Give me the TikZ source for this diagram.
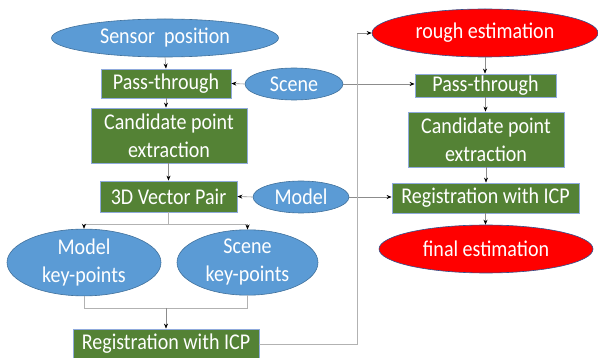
\documentclass[tikz,border=0pt]{standalone}
\usepackage{fontspec}
\setmainfont{Carlito}[FakeStretch=0.89]
\usetikzlibrary{shapes.geometric,arrows.meta}
\definecolor{bfill}{HTML}{5B9BD5}
\definecolor{bline}{HTML}{41719C}
\definecolor{gfill}{HTML}{548235}
\definecolor{gline}{HTML}{8FAADC}
\definecolor{rline}{HTML}{2F528F}
\tikzset{
  every node/.style={text=white,font=\fontsize{22.5}{28}\selectfont,inner sep=0pt,align=center},
  blueell/.style={ellipse,fill=bfill,draw=bline,line width=0.6pt},
  redell/.style={ellipse,fill=red,draw=rline,line width=0.6pt},
  gbox/.style={rectangle,fill=gfill,draw=gline,line width=0.8pt},
  conn/.style={draw=black!45,line width=0.6pt,-{Stealth[length=5pt,width=4pt,black]}},
  plain/.style={draw=black!30,line width=0.6pt}
}
\begin{document}
\begin{tikzpicture}[x=1pt,y=-1pt]
\useasboundingbox (0,0) rectangle (598,358);
% left column
\node[blueell,minimum width=227pt,minimum height=38pt] (sensor) at (165,38) {Sensor\ \ position};
\node[gbox,minimum width=130pt,minimum height=29pt] (pt1) at (166,83.5) {Pass-through};
\node[blueell,minimum width=98pt,minimum height=32pt] (scene) at (294,84) {Scene};
\node[gbox,minimum width=156pt,minimum height=55pt] (cand1) at (169,135.5) {Candidate point\\extraction};
\node[gbox,minimum width=137pt,minimum height=31pt] (vec) at (168.5,196.5) {3D Vector Pair};
\node[blueell,minimum width=96pt,minimum height=32pt] (model) at (301,197) {Model};
\node[blueell,minimum width=154pt,minimum height=51pt] (mkp) at (84,262.5) {Model\\key-points};
\node[blueell,minimum width=141pt,minimum height=51pt] (skp) at (247.5,262.5) {Scene\\key-points};
\node[gbox,minimum width=186pt,minimum height=30pt] (reg1) at (166,344) {Registration with ICP};
% right column
\node[redell,minimum width=226pt,minimum height=48pt] (rough) at (485,33) {rough estimation};
\node[gbox,minimum width=141pt,minimum height=23pt] (pt2) at (485.5,85.5) {Pass-through};
\node[gbox,minimum width=156pt,minimum height=55pt] (cand2) at (486,139.5) {Candidate point\\extraction};
\node[gbox,minimum width=187pt,minimum height=30pt] (reg2) at (485.5,198) {Registration with ICP};
\node[redell,minimum width=214pt,minimum height=48pt] (final) at (486,249) {final estimation};
% helper coordinates
\coordinate (f1) at (168.5,224);
\coordinate (j1) at (166,308);
\coordinate (c1) at (357,344);
\coordinate (c2) at (357,33);
% connectors
\draw[conn] (sensor.south) -- (pt1.north);
\draw[conn] (pt1.south) -- (pt1.south |- cand1.north);
\draw[conn] (cand1.south -| vec.north) -- (vec.north);
\draw[conn] (scene.west) -- (pt1.east);
\draw[conn] (scene.east) -- (pt2.west |- scene.east);
\draw[conn] (model.west) -- (vec.east);
\draw[conn] (model.east) -- (reg2.west |- model.east);
\draw[plain] (vec.south) -- (f1);
\draw[plain] (mkp.north |- f1) -- (skp.north |- f1);
\draw[conn] (mkp.north |- f1) -- (mkp.north);
\draw[conn] (skp.north |- f1) -- (skp.north);
\draw[plain] (mkp.south) -- (mkp.south |- j1) -- (skp.south |- j1) -- (skp.south);
\draw[conn] (j1) -- (reg1.north -| j1);
\draw[plain] (reg1.east) -- (c1) -- (c2);
\draw[conn] (c2) -- (rough.west);
\draw[conn] (rough.south) -- (pt2.north -| rough.south);
\draw[conn] (pt2.south) -- (pt2.south |- cand2.north);
\draw[conn] (cand2.south) -- (cand2.south |- reg2.north);
\draw[conn] (reg2.south) -- (reg2.south |- final.north);
\end{tikzpicture}
\end{document}
